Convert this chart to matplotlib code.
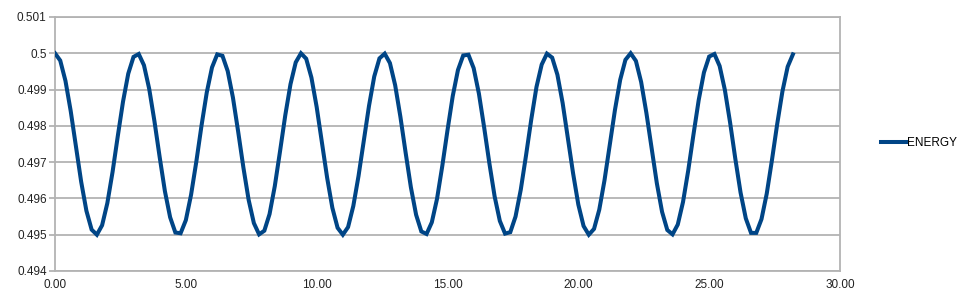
import matplotlib
matplotlib.use("Agg")
import matplotlib.pyplot as plt
from matplotlib.ticker import MultipleLocator, FuncFormatter

plt.rcParams['font.family'] = ['Liberation Sans', 'DejaVu Sans']

# time values (step 0.2) and ENERGY values
time = [round(0.2 * i, 1) for i in range(142)]
energy = [
    0.50000, 0.49980, 0.49924, 0.49841, 0.49743, 0.49646, 0.49566, 0.49514, 0.49500, 0.49526,
    0.49587, 0.49673, 0.49772, 0.49867, 0.49944, 0.49990, 0.49998, 0.49967, 0.49902, 0.49813,
    0.49714, 0.49620, 0.49548, 0.49506, 0.49504, 0.49540, 0.49610, 0.49701, 0.49801, 0.49892,
    0.49961, 0.49997, 0.49993, 0.49951, 0.49878, 0.49784, 0.49685, 0.49596, 0.49532, 0.49501,
    0.49511, 0.49557, 0.49634, 0.49730, 0.49829, 0.49915, 0.49975, 0.50000, 0.49985, 0.49933,
    0.49852, 0.49755, 0.49657, 0.49574, 0.49519, 0.49500, 0.49521, 0.49579, 0.49662, 0.49759,
    0.49855, 0.49936, 0.49986, 0.49999, 0.49973, 0.49912, 0.49825, 0.49726, 0.49631, 0.49555,
    0.49509, 0.49502, 0.49534, 0.49599, 0.49689, 0.49788, 0.49882, 0.49954, 0.49994, 0.49996,
    0.49959, 0.49889, 0.49796, 0.49697, 0.49606, 0.49538, 0.49503, 0.49507, 0.49550, 0.49624,
    0.49718, 0.49817, 0.49907, 0.49969, 0.49999, 0.49988, 0.49941, 0.49863, 0.49767, 0.49669,
    0.49583, 0.49524, 0.49500, 0.49516, 0.49569, 0.49650, 0.49747, 0.49844, 0.49927, 0.49982,
    0.50000, 0.49979, 0.49921, 0.49836, 0.49738, 0.49642, 0.49563, 0.49513, 0.49501, 0.49528,
    0.49590, 0.49677, 0.49776, 0.49871, 0.49947, 0.49991, 0.49998, 0.49965, 0.49899, 0.49809,
    0.49709, 0.49616, 0.49545, 0.49505, 0.49505, 0.49543, 0.49613, 0.49706, 0.49805, 0.49895,
    0.49963, 0.49997,
]
series_name = "ENERGY"

fig = plt.figure(figsize=(9.6, 3.06), dpi=100)
ax = fig.add_axes([55 / 960, 1 - 271 / 306, (840 - 55) / 960, (271 - 17) / 306])

ax.plot(time, energy, color='#004586', linewidth=2.9, label=series_name,
        solid_joinstyle='miter', zorder=3)

ax.set_xlim(0, 30)
ax.set_ylim(0.494, 0.501)
ax.xaxis.set_major_locator(MultipleLocator(5))
ax.yaxis.set_major_locator(MultipleLocator(0.001))
ax.xaxis.set_major_formatter(FuncFormatter(lambda v, p: f"{v:.2f}"))

def yfmt(v, p):
    s = f"{v:.3f}".rstrip('0').rstrip('.')
    return s
ax.yaxis.set_major_formatter(FuncFormatter(yfmt))

ax.grid(axis='y', color='#b3b3b3', linewidth=1.3, zorder=1)
ax.grid(axis='x', visible=False)
for s in ax.spines.values():
    s.set_color('#b3b3b3')
    s.set_linewidth(1.3)
ax.tick_params(axis='y', length=4, color='#b3b3b3', width=1.3, labelsize=8.5,
               labelcolor='#222222', pad=2)
ax.tick_params(axis='x', length=0, labelsize=8.5, labelcolor='#222222', pad=6)

leg = fig.legend(loc='center left', bbox_to_anchor=(875 / 960, 1 - 143 / 306),
                 frameon=False, fontsize=8.5, handlelength=2.2, handletextpad=0.0,
                 borderpad=0)

fig.savefig('out.png', dpi=100)
